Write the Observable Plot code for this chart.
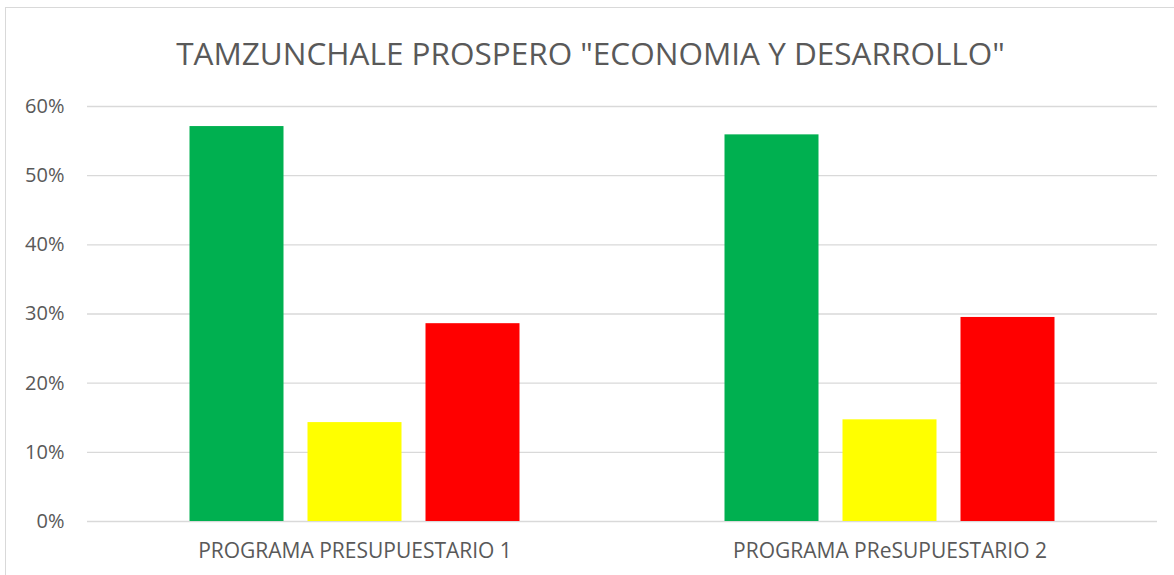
<!DOCTYPE html>
<html>
<head>
<meta charset="utf-8">
<script src="https://cdn.jsdelivr.net/npm/d3@7"></script>
<script src="https://cdn.jsdelivr.net/npm/@observablehq/plot@0.6"></script>
<style>
  html, body { margin: 0; padding: 0; background: #fff; }
  #frame {
    position: relative;
    margin: 7px 0 0 5px;
    width: 1169px;
    height: 567px;
    border-left: 1px solid #D9D9D9;
    border-top: 1px solid #D9D9D9;
    font-family: "Open Sans", sans-serif;
  }
  #title {
    box-sizing: border-box;
    height: 72px;
    padding-top: 23px;
    text-align: center;
    font-size: 31.5px;
    line-height: normal;
    color: #595959;
    white-space: nowrap;
  }
  #chart svg { display: block; }
</style>
</head>
<body>
<div id="frame">
  <div id="title">TAMZUNCHALE PROSPERO "ECONOMIA Y DESARROLLO"</div>
  <div id="chart"></div>
</div>
<script>
const programs = ["PROGRAMA PRESUPUESTARIO 1", "PROGRAMA PReSUPUESTARIO 2"];
const categories = ["Verde", "Amarillo", "Rojo"];
const colors = ["#00B050", "#FFFF00", "#FF0000"];
const program1Values = [0.571, 0.143, 0.286];
const program2Values = [0.559, 0.147, 0.295];
const yTicks = [0, 0.1, 0.2, 0.3, 0.4, 0.5, 0.6];

const seriesByProgram = [program1Values, program2Values];
const data = programs.flatMap((p, i) =>
  categories.map((c, j) => ({program: p, category: c, value: seriesByProgram[i][j]}))
);

const chart = Plot.plot({
  width: 1168,
  height: 495,
  marginTop: 26,
  marginBottom: 54,
  marginLeft: 80.5,
  marginRight: 17.5,
  style: {fontFamily: "Open Sans, sans-serif", color: "#595959", background: "transparent"},
  fx: {domain: programs, padding: 0, label: null},
  x: {domain: categories, paddingInner: 0.2017, paddingOuter: 0.849, axis: null},
  y: {domain: [0, 0.6], label: null},
  color: {domain: categories, range: colors},
  marks: [
    Plot.gridY(yTicks, {stroke: "#D9D9D9", strokeOpacity: 1, strokeWidth: 1.3}),
    Plot.barY(data, {fx: "program", x: "category", y: "value", fill: "category"}),
    Plot.axisY(yTicks, {tickFormat: d3.format(".0%"), tickSize: 0, tickPadding: 23, fontSize: 20, label: null}),
    Plot.axisFx({anchor: "bottom", tickSize: 0, tickPadding: 22, fontSize: 21, label: null})
  ]
});
document.getElementById("chart").appendChild(chart);
</script>
</body>
</html>
